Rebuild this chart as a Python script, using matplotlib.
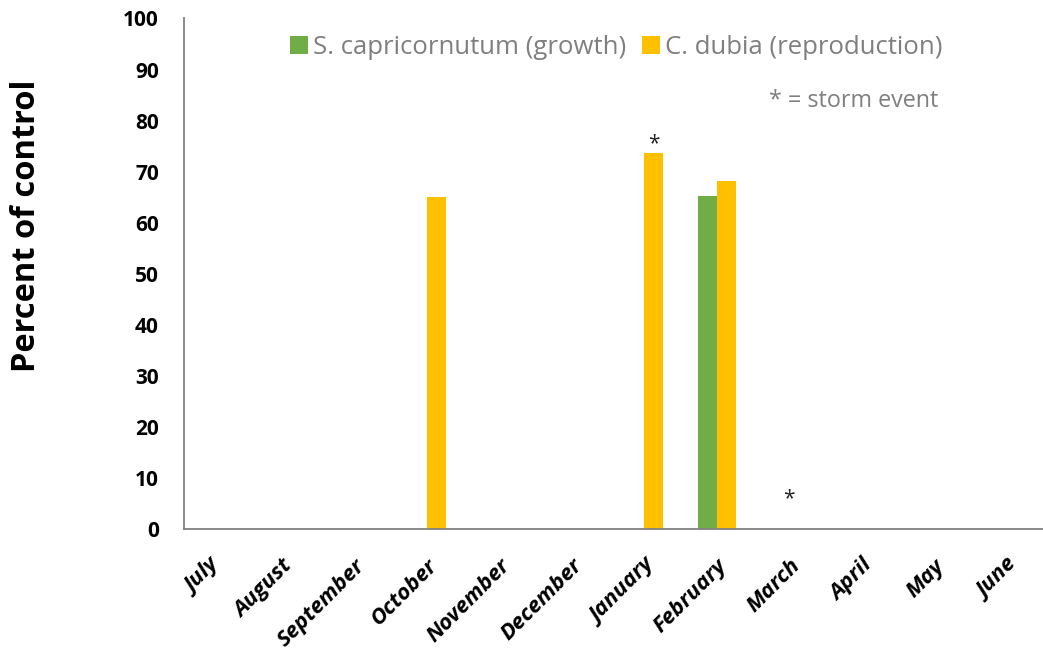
import numpy as np
import matplotlib.pyplot as plt

# data
months = ["July", "August", "September", "October", "November", "December",
          "January", "February", "March", "April", "May", "June"]
growth = [0, 0, 0, 0, 0, 0, 0, 65.2, 0, 0, 0, 0]          # S. capricornutum
reproduction = [0, 0, 0, 65.0, 0, 0, 73.7, 68.2, 0, 0, 0, 0]  # C. dubia
storm_months = ["January", "March"]
storm_y = [73.4, 3.9]

plt.rcParams['font.family'] = ['Open Sans', 'DejaVu Sans']

fig = plt.figure(figsize=(10.43, 6.55), dpi=100)
ax = fig.add_axes([0.1764, 0.1924, 0.8236, 0.7794])

x = np.arange(len(months))
w = 0.26
ax.bar(x - w / 2, growth, w, color='#70ad47', label='S. capricornutum (growth)')
ax.bar(x + w / 2, reproduction, w, color='#ffc000', label='C. dubia (reproduction)')

# storm markers (January sits over the C. dubia bar)
for m, yv in zip(storm_months, storm_y):
    i = months.index(m)
    xi = i + w / 2 if reproduction[i] > 0 else i
    ax.text(xi, yv, '*', ha='center', va='bottom', fontsize=15, color='#222222')

ax.set_xlim(-0.35, len(months) - 0.5)
ax.set_ylim(0, 100)
ax.set_yticks(range(0, 101, 10))
ax.set_xticks(x)
ax.set_xticklabels(months, rotation=45, ha='right', va='top', rotation_mode='anchor',
                   fontsize=16, fontweight='bold', fontstyle='italic')
for lab in ax.get_yticklabels():
    lab.set_fontsize(15)
    lab.set_fontweight('bold')
ax.tick_params(axis='both', length=0)
ax.tick_params(axis='y', pad=18)
ax.tick_params(axis='x', pad=19)
for s in ['top', 'right']:
    ax.spines[s].set_visible(False)
for s in ['left', 'bottom']:
    ax.spines[s].set_color('#808080')
    ax.spines[s].set_linewidth(1.3)

ax.set_ylabel('Percent of control', fontsize=23.5, fontweight='bold',
              va='center', rotation_mode='default')
ax.yaxis.set_label_coords(-0.183, 0.594)

leg = ax.legend(loc='center', bbox_to_anchor=(0.503, 0.943), ncol=2, frameon=False,
                fontsize=18.5, handlelength=0.7, handleheight=0.7, handletextpad=0.2,
                columnspacing=0.6, borderaxespad=0, borderpad=0)
for t in leg.get_texts():
    t.set_color('#7f7f7f')
ax.text(0.780, 0.839, '* = storm event', transform=ax.transAxes, ha='center', va='center',
        fontsize=16.8, color='#7f7f7f')

fig.savefig('out.png', dpi=100)
